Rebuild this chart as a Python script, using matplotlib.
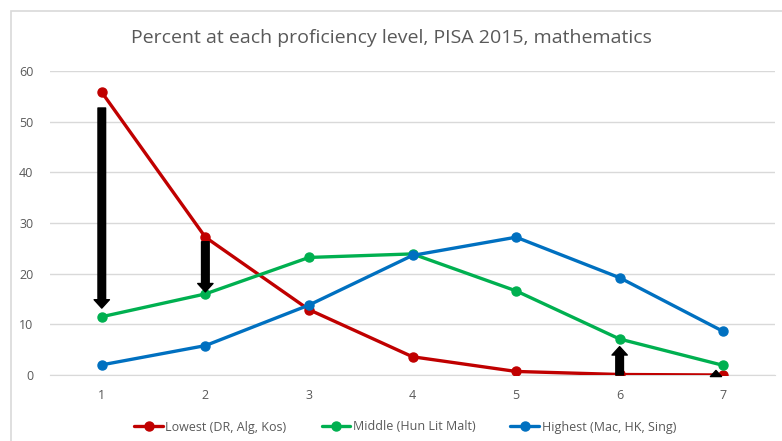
import matplotlib.pyplot as plt
from matplotlib.patches import Rectangle

levels = [1, 2, 3, 4, 5, 6, 7]
lowest = [55.8, 27.2, 12.9, 3.6, 0.7, 0.1, 0.0]
middle = [11.5, 16.0, 23.2, 23.9, 16.6, 7.1, 1.9]
highest = [2.0, 5.8, 13.8, 23.6, 27.2, 19.2, 8.6]

labels = ["Lowest (DR, Alg, Kos)", "Middle (Hun Lit Malt)", "Highest (Mac, HK, Sing)"]
colors = ["#c00000", "#00b050", "#0070c0"]

# black arrows drawn on top (x, start, end)
arrow_x = [1, 2, 6, 6.93]
arrow_from = [52.7, 26.3, 0.0, 0.0]
arrow_to = [13.2, 16.4, 5.6, 0.9]
arrow_head = [11, 11, 11, 8]

plt.rcParams['font.family'] = ['Open Sans', 'DejaVu Sans']
grey = "#595959"

fig = plt.figure(figsize=(7.82, 4.41), dpi=100)
ax = fig.add_axes([50 / 782, 1 - 375 / 441, 725 / 782, 304 / 441])

# light frame around chart
fig.patches.append(Rectangle((11 / 782, -0.1), 1.2, 1.1 - 11 / 441, transform=fig.transFigure,
                             fill=False, edgecolor="#d9d9d9", linewidth=1.2))

for ys, lab, c in zip([lowest, middle, highest], labels, colors):
    ax.plot(levels, ys, color=c, lw=2.4, marker="o", ms=6.5, label=lab, zorder=3,
            solid_capstyle="round")

for x, y0, y1, hw in zip(arrow_x, arrow_from, arrow_to, arrow_head):
    ax.annotate("", xy=(x, y1), xytext=(x, y0),
                arrowprops=dict(facecolor="black", edgecolor="black", width=5.5,
                                headwidth=hw, headlength=hw * 0.55, shrink=0), zorder=4)

ax.set_xlim(0.5, 7.5)
ax.set_ylim(0, 60)
ax.set_yticks(range(0, 61, 10))
ax.set_xticks(levels)
ax.grid(axis="y", color="#d9d9d9", lw=1)
ax.set_axisbelow(True)
for s in ["top", "right", "left"]:
    ax.spines[s].set_visible(False)
ax.spines["bottom"].set_color("#d9d9d9")
ax.tick_params(length=0, labelsize=9, colors=grey, pad=10)
ax.tick_params(axis="y", pad=12)

fig.text(0.5, 1 - 38 / 441, "Percent at each proficiency level, PISA 2015, mathematics",
         ha="center", va="center", fontsize=14, color=grey)

fig.legend(loc="center", bbox_to_anchor=(0.518, 1 - 427 / 441), ncol=3, frameon=False,
           fontsize=9, labelcolor=grey, handlelength=2.3, handletextpad=0.2, columnspacing=2.8)

fig.savefig("out.png", dpi=100)
